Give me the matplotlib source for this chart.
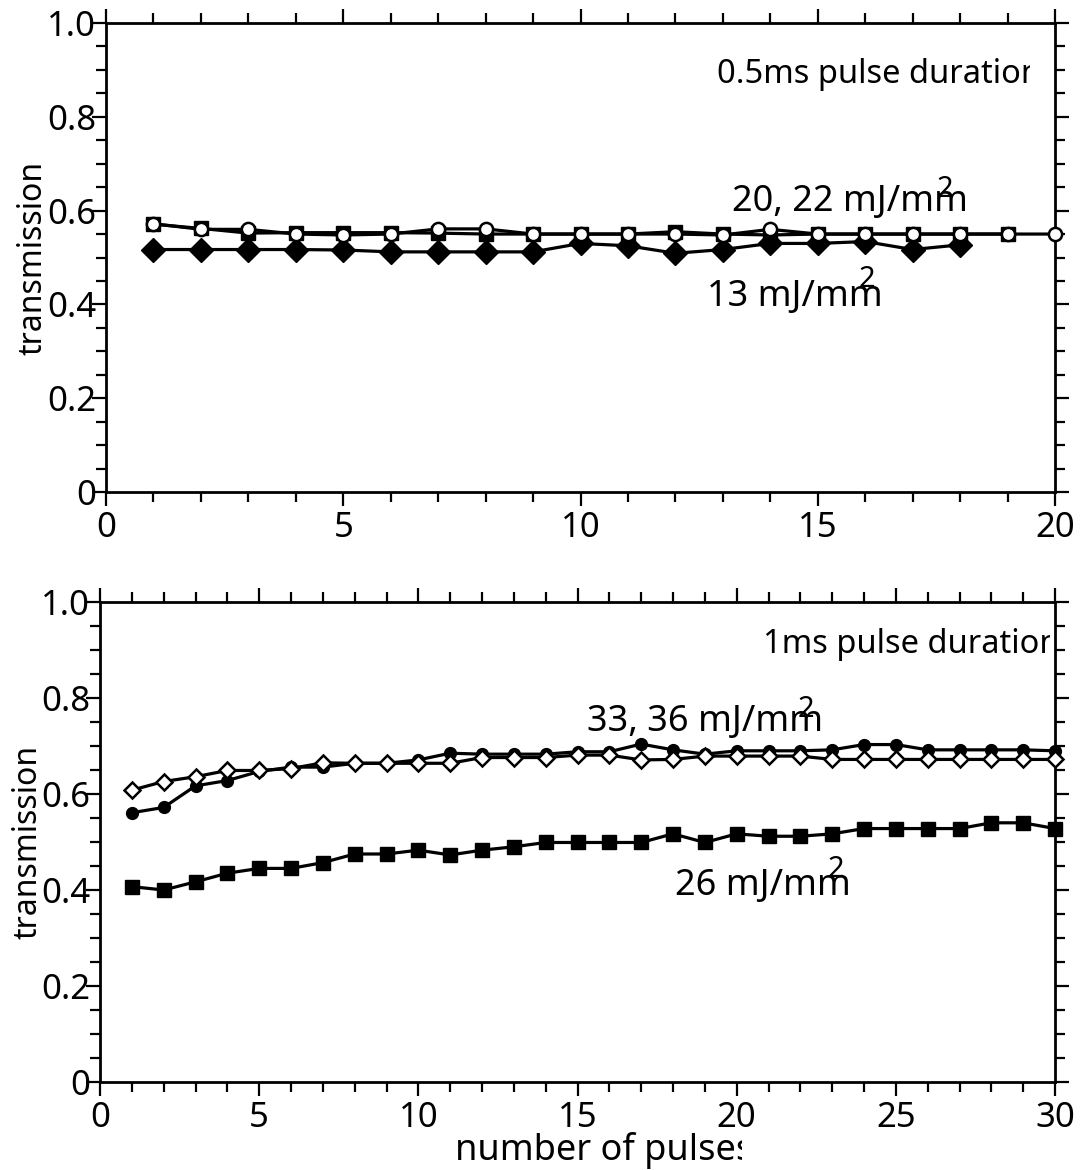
import matplotlib
matplotlib.use('Agg')
import matplotlib.pyplot as plt
from matplotlib.ticker import MultipleLocator, FuncFormatter
from matplotlib.transforms import Bbox, TransformedBbox

plt.rcParams['font.family'] = ['Noto Sans', 'DejaVu Sans']

# ---- top panel: 0.5 ms pulse duration ----
pulses_top_13 = list(range(1, 19))
trans_top_13 = [0.517, 0.517, 0.517, 0.517, 0.516, 0.512, 0.512, 0.512, 0.512,
                0.530, 0.525, 0.509, 0.517, 0.530, 0.530, 0.534, 0.517, 0.527]
pulses_top_20 = list(range(1, 20))
trans_top_20 = [0.571, 0.562, 0.552, 0.553, 0.553, 0.553, 0.552, 0.550, 0.550, 0.550,
                0.550, 0.555, 0.550, 0.548, 0.550, 0.550, 0.550, 0.550, 0.550]
pulses_top_22 = list(range(1, 21))
trans_top_22 = [0.572, 0.560, 0.560, 0.550, 0.548, 0.550, 0.561, 0.561, 0.550, 0.550,
                0.550, 0.550, 0.548, 0.560, 0.550, 0.550, 0.550, 0.550, 0.550, 0.550]

# ---- bottom panel: 1 ms pulse duration ----
pulses_bot = list(range(1, 31))
trans_bot_diam = [0.608, 0.626, 0.636, 0.649, 0.649, 0.653, 0.665, 0.664, 0.664, 0.664,
                  0.664, 0.676, 0.676, 0.676, 0.681, 0.681, 0.671, 0.672, 0.679, 0.679,
                  0.679, 0.679, 0.672, 0.672, 0.672, 0.672, 0.672, 0.672, 0.672, 0.672]
trans_bot_circ = [0.561, 0.572, 0.617, 0.628, 0.647, 0.656, 0.656, 0.664, 0.664, 0.671,
                  0.685, 0.683, 0.683, 0.683, 0.688, 0.688, 0.704, 0.692, 0.683, 0.690,
                  0.690, 0.690, 0.692, 0.703, 0.703, 0.692, 0.692, 0.692, 0.692, 0.690]
trans_bot_26 = [0.407, 0.400, 0.417, 0.435, 0.445, 0.445, 0.457, 0.475, 0.475, 0.483,
                0.473, 0.483, 0.490, 0.499, 0.499, 0.499, 0.499, 0.517, 0.499, 0.517,
                0.512, 0.512, 0.517, 0.528, 0.528, 0.528, 0.528, 0.540, 0.540, 0.528]

W, H = 1083, 1170
fig = plt.figure(figsize=(W / 100, H / 100), dpi=100)
ax1 = fig.add_axes([106 / W, 1 - 492 / H, (1055 - 106) / W, (492 - 23) / H])
ax2 = fig.add_axes([100 / W, 1 - 1082 / H, (1055 - 100) / W, (1082 - 602) / H])

FS = 25      # tick labels
FA = 26      # annotations
FT = 23.5    # panel titles
FSUP = 21    # superscript


def style(ax, xmax):
    ax.set_xlim(0, xmax)
    ax.set_ylim(0, 1.0)
    ax.xaxis.set_major_locator(MultipleLocator(5))
    ax.xaxis.set_minor_locator(MultipleLocator(1))
    ax.yaxis.set_major_locator(MultipleLocator(0.2))
    ax.yaxis.set_minor_locator(MultipleLocator(0.05))
    ax.yaxis.set_major_formatter(FuncFormatter(lambda v, p: '0' if abs(v) < 1e-9 else f'{v:.1f}'))
    ax.xaxis.set_major_formatter(FuncFormatter(lambda v, p: f'{v:.0f}'))
    ax.tick_params(which='both', direction='out', top=True, right=True, width=1.6,
                   labelsize=FS, color='black')
    ax.tick_params(which='major', length=10)
    ax.tick_params(which='minor', length=7)
    ax.tick_params(axis='y', which='major', pad=-3)
    ax.tick_params(axis='x', which='major', pad=4)
    for s in ax.spines.values():
        s.set_linewidth(2)
    ax.set_ylabel('transmission', fontsize=23)


style(ax1, 20)
style(ax2, 30)

lw = 2.3
ax1.plot(pulses_top_13, trans_top_13, color='black', lw=lw, marker='D', ms=12,
         mfc='black', mec='black', mew=1, clip_on=False, zorder=3)
ax1.plot(pulses_top_20, trans_top_20, color='black', lw=lw, marker='s', ms=10.5,
         mfc='black', mec='black', mew=1, clip_on=False, zorder=4)
ax1.plot(pulses_top_22, trans_top_22, color='black', lw=lw, marker='o', ms=9.5,
         mfc='white', mec='black', mew=1.8, clip_on=False, zorder=5)

ax2.plot(pulses_bot, trans_bot_26, color='black', lw=lw, marker='s', ms=10.5,
         mfc='black', mec='black', mew=1, clip_on=False, zorder=3)
ax2.plot(pulses_bot, trans_bot_circ, color='black', lw=lw, marker='o', ms=8.5,
         mfc='black', mec='black', mew=1, clip_on=False, zorder=4)
ax2.plot(pulses_bot, trans_bot_diam, color='black', lw=lw, marker='D', ms=8.5,
         mfc='white', mec='black', mew=1.8, clip_on=False, zorder=5)

# annotations
t1 = ax1.text(12.87, 0.872, '0.5ms pulse duration', fontsize=FT, ha='left', va='baseline')
t1.set_clip_box(TransformedBbox(Bbox([[0, 0], [19.47, 1.0]]), ax1.transData))
t1.set_clip_on(True)
ax1.text(13.19, 0.599, '20, 22 mJ/mm', fontsize=FA, ha='left', va='baseline')
ax1.text(17.50, 0.629, '2', fontsize=FSUP, ha='left', va='baseline')
ax1.text(12.66, 0.397, '13 mJ/mm', fontsize=FA, ha='left', va='baseline')
ax1.text(15.86, 0.437, '2', fontsize=FSUP, ha='left', va='baseline')

t2 = ax2.text(20.83, 0.894, '1ms pulse duration', fontsize=FT, ha='left', va='baseline')
t2.set_clip_box(TransformedBbox(Bbox([[0, 0], [29.85, 1.0]]), ax2.transData))
t2.set_clip_on(True)
ax2.text(15.3, 0.731, '33, 36 mJ/mm', fontsize=FA, ha='left', va='baseline')
ax2.text(21.9, 0.760, '2', fontsize=FSUP, ha='left', va='baseline')
ax2.text(18.06, 0.390, '26 mJ/mm', fontsize=FA, ha='left', va='baseline')
ax2.text(22.87, 0.427, '2', fontsize=FSUP, ha='left', va='baseline')

ax1.yaxis.set_label_coords(-0.06, 0.5)
ax2.yaxis.set_label_coords(-0.058, 0.5)

xl = fig.text(455 / W, 1 - 1160 / H, 'number of pulses', fontsize=FA, ha='left', va='baseline')
xl.set_clip_box(TransformedBbox(Bbox([[0, 0], [7.42, H / 100]]), fig.dpi_scale_trans))
xl.set_clip_on(True)

fig.savefig('out.png', dpi=100)
